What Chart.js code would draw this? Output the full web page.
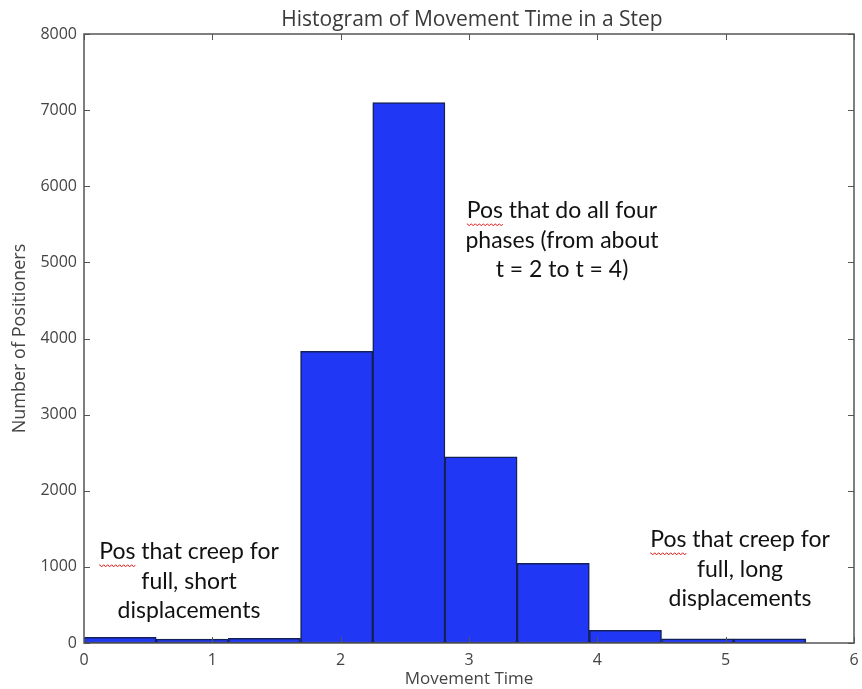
<!DOCTYPE html>
<html>
<head>
<meta charset="utf-8">
<script src="https://cdn.jsdelivr.net/npm/chart.js@4/dist/chart.umd.min.js"></script>
<style>
  html, body { margin: 0; padding: 0; background: #fff; }
  #wrap { width: 862px; height: 689px; }
</style>
</head>
<body>
<div id="wrap"><canvas id="histChart" width="862" height="689"></canvas></div>
<script>
// bin edges start at 0, width 0.5625
const binStart = 0;
const binWidth = 0.5625;
const binCounts = [75, 50, 60, 3830, 7100, 2445, 1045, 165, 55, 55];
const xTicks = [0, 1, 2, 3, 4, 5, 6];
const yTicks = [0, 1000, 2000, 3000, 4000, 5000, 6000, 7000, 8000];

const notes = [
    { x: 562, y: 211, lines: ['Pos that do all four', 'phases (from about', 't = 2 to t = 4)'] },
    { x: 189, y: 552, lines: ['Pos that creep for', 'full, short', 'displacements'] },
    { x: 740, y: 540, lines: ['Pos that creep for', 'full, long', 'displacements'] }
];

const binCenters = binCounts.map((c, i) => binStart + binWidth * (i + 0.5));
const points = binCounts.map((c, i) => ({ x: binCenters[i], y: c }));

// frame, inward ticks, title and text notes
const decorPlugin = {
    id: 'decor',
    afterDraw(chart) {
        const ctx = chart.ctx;
        const a = chart.chartArea;
        const xs = chart.scales.x, ys = chart.scales.y;
        ctx.save();
        ctx.strokeStyle = '#555';
        ctx.lineWidth = 1.5;
        ctx.strokeRect(a.left, a.top, a.right - a.left, a.bottom - a.top);
        ctx.lineWidth = 1;
        xTicks.forEach(t => {
            const px = Math.round(xs.getPixelForValue(t)) + 0.5;
            ctx.beginPath(); ctx.moveTo(px, a.bottom); ctx.lineTo(px, a.bottom - 6); ctx.stroke();
            ctx.beginPath(); ctx.moveTo(px, a.top); ctx.lineTo(px, a.top + 6); ctx.stroke();
        });
        yTicks.forEach(t => {
            const py = Math.round(ys.getPixelForValue(t)) + 0.5;
            ctx.beginPath(); ctx.moveTo(a.left, py); ctx.lineTo(a.left + 6, py); ctx.stroke();
            ctx.beginPath(); ctx.moveTo(a.right, py); ctx.lineTo(a.right - 6, py); ctx.stroke();
        });

        ctx.fillStyle = '#3a3a3a';
        ctx.font = '21px "Open Sans"';
        ctx.textAlign = 'center';
        ctx.textBaseline = 'middle';
        ctx.fillText('Histogram of Movement Time in a Step', 472, 20);

        ctx.font = '23px Lato';
        notes.forEach(n => {
            n.lines.forEach((line, i) => {
                const y = n.y + i * 29.5;
                ctx.fillStyle = '#111';
                ctx.textAlign = 'center';
                ctx.fillText(line, n.x, y);
                if (line.startsWith('Pos ')) {
                    const full = ctx.measureText(line).width;
                    const w = ctx.measureText('Pos').width;
                    const x0 = n.x - full / 2;
                    ctx.strokeStyle = '#e03030';
                    ctx.lineWidth = 1;
                    ctx.beginPath();
                    for (let k = 0; k <= w; k += 1) {
                        const yy = y + 13 + (Math.floor(k / 2) % 2 === 0 ? 0 : 1.5);
                        if (k === 0) ctx.moveTo(x0 + k, yy); else ctx.lineTo(x0 + k, yy);
                    }
                    ctx.stroke();
                }
            });
        });
        ctx.restore();
    }
};

new Chart(document.getElementById('histChart'), {
    type: 'bar',
    data: {
        datasets: [{
            data: points,
            backgroundColor: '#2038f5',
            borderColor: '#14205a',
            borderWidth: 1.5,
            borderSkipped: false,
            barPercentage: 1,
            categoryPercentage: 1,
            grouped: false
        }]
    },
    options: {
        responsive: false,
        animation: false,
        layout: { padding: { top: 34, right: 8, left: 0, bottom: 0 } },
        plugins: { legend: { display: false }, tooltip: { enabled: false } },
        scales: {
            x: {
                type: 'linear',
                offset: false,
                min: 0, max: 6,
                afterBuildTicks: s => { s.ticks = xTicks.map(v => ({ value: v })); },
                afterFit: s => { s.height = 46; },
                grid: { display: false, offset: false },
                border: { display: false },
                ticks: { color: '#444', font: { family: 'Open Sans', size: 16 }, padding: 0, callback: v => String(v) },
                title: { display: true, text: 'Movement Time', color: '#444', font: { family: 'Open Sans', size: 17 }, padding: { top: 0, bottom: 0 } }
            },
            y: {
                min: 0, max: 8000,
                afterBuildTicks: s => { s.ticks = yTicks.map(v => ({ value: v })); },
                afterFit: s => { s.width = 84; },
                grid: { display: false },
                border: { display: false },
                ticks: { color: '#444', font: { family: 'Open Sans', size: 16 }, padding: -1, callback: v => String(v) },
                title: { display: true, text: 'Number of Positioners', color: '#444', font: { family: 'Open Sans', size: 18 }, padding: { top: 9, bottom: 2 } }
            }
        }
    },
    plugins: [decorPlugin]
});
</script>
</body>
</html>
